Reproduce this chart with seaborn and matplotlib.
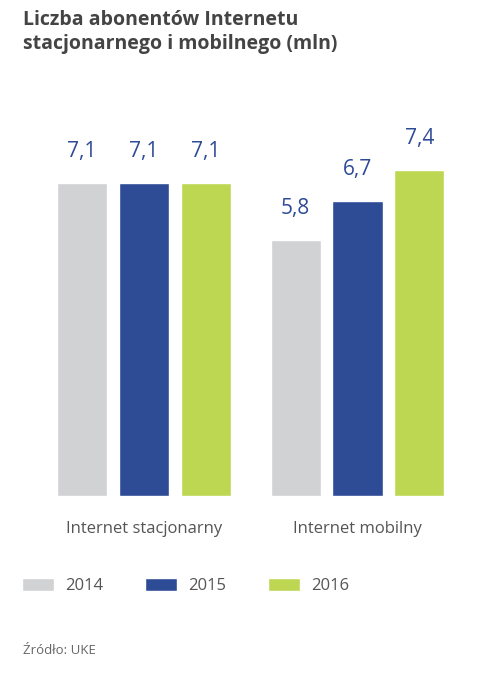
import pandas as pd
import numpy as np
import matplotlib.pyplot as plt
import seaborn as sns

# dane (mln abonentów)
categories = ["Internet stacjonarny", "Internet mobilny"]
years = ["2014", "2015", "2016"]
val_2014 = [7.1, 5.8]
val_2015 = [7.1, 6.7]
val_2016 = [7.1, 7.4]

colors = ["#D1D2D4", "#2E4B96", "#BDD753"]

df = pd.DataFrame({
    "kategoria": categories * 3,
    "rok": [y for y in years for _ in categories],
    "wartosc": val_2014 + val_2015 + val_2016,
})

sns.set_style("white")
plt.rcParams["font.family"] = ["Open Sans", "DejaVu Sans"]

fig = plt.figure(figsize=(4.87, 6.81), dpi=100)
W, H = 487, 681
# axes in pixel coordinates -> figure fraction
left_px, right_px, top_px, bottom_px = 30, 470, 100, 496
ax = fig.add_axes([left_px / W, 1 - bottom_px / H,
                   (right_px - left_px) / W, (bottom_px - top_px) / H])

sns.barplot(data=df, x="kategoria", y="wartosc", hue="rok",
            palette=colors, width=0.87, gap=0.19, ax=ax,
            saturation=1, legend=True)

ax.set_xlim(-(144 - left_px) / 213.5, 1 + (right_px - 357.5) / 213.5)
ax.set_ylim(0, (bottom_px - top_px) / 44.1)

for cont in ax.containers:
    labels = [f"{v:.1f}".replace(".", ",") for v in cont.datavalues]
    ax.bar_label(cont, labels=labels, padding=15, fontsize=15,
                 color="#2E4B96")

sns.despine(ax=ax, left=True, bottom=True)
ax.set_yticks([])
ax.set_xlabel("")
ax.set_ylabel("")
ax.tick_params(axis="x", length=0, pad=18, labelsize=12, labelcolor="#555555")

handles, labs = ax.get_legend_handles_labels()
ax.legend_.remove()
fig.legend(handles, labs, loc="center left",
           bbox_to_anchor=(22 / W, 1 - 586 / H), ncol=3, frameon=False,
           borderpad=0, borderaxespad=0,
           fontsize=12, labelcolor="#555555",
           handlelength=1.9, handleheight=0.8, handletextpad=0.7,
           columnspacing=2.5)

fig.text(23 / W, 1 - 10 / H, "Liczba abonentów Internetu\nstacjonarnego i mobilnego (mln)",
         ha="left", va="top", fontsize=14, fontweight="bold",
         color="#444444", linespacing=1.3)
fig.text(23 / W, 1 - 651 / H, "Źródło: UKE", ha="left", va="center",
         fontsize=9.5, color="#666666")

fig.savefig("out.png", dpi=100)
